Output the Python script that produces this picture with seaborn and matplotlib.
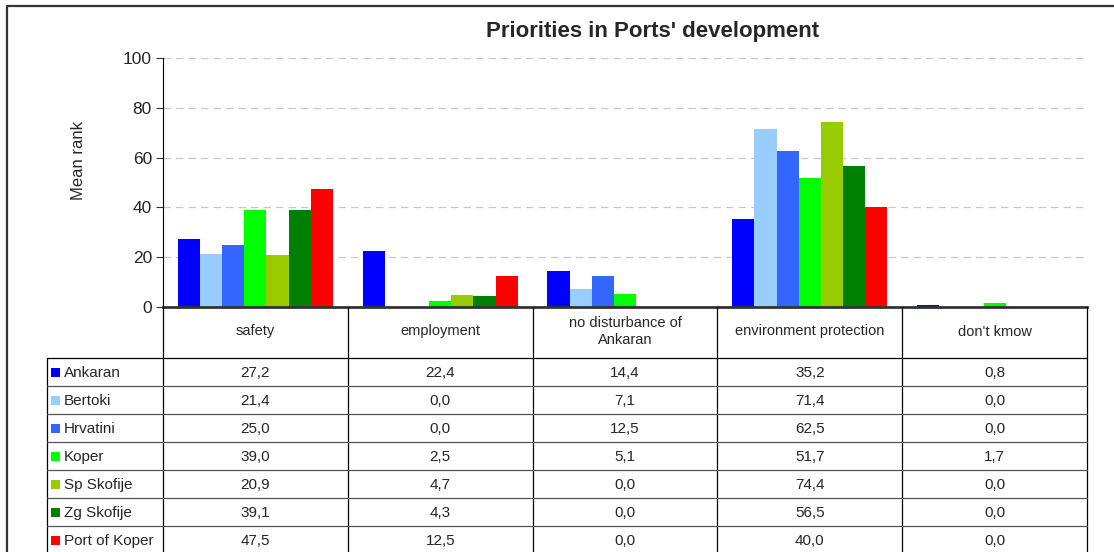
import seaborn as sns
import matplotlib.pyplot as plt
import pandas as pd
from matplotlib.patches import Rectangle

categories = ["safety", "employment", "no disturbance of\nAnkaran",
              "environment protection", "don't kmow"]
places = ["Ankaran", "Bertoki", "Hrvatini", "Koper", "Sp Skofije", "Zg Skofije", "Port of Koper"]
colors = ["#0000FF", "#99CCFF", "#3366FF", "#00FF00", "#99CC00", "#008000", "#FF0000"]

ankaran = [27.2, 22.4, 14.4, 35.2, 0.8]
bertoki = [21.4, 0.0, 7.1, 71.4, 0.0]
hrvatini = [25.0, 0.0, 12.5, 62.5, 0.0]
koper = [39.0, 2.5, 5.1, 51.7, 1.7]
sp_skofije = [20.9, 4.7, 0.0, 74.4, 0.0]
zg_skofije = [39.1, 4.3, 0.0, 56.5, 0.0]
port_of_koper = [47.5, 12.5, 0.0, 40.0, 0.0]

series = [ankaran, bertoki, hrvatini, koper, sp_skofije, zg_skofije, port_of_koper]


def main():
    sns.set_theme(style="white")
    plt.rcParams['font.family'] = ['Liberation Sans', 'DejaVu Sans']

    df = pd.DataFrame(
        [(cat, place, val)
         for place, vals in zip(places, series)
         for cat, val in zip(categories, vals)],
        columns=["category", "place", "value"],
    )

    W, H = 1114, 552
    fig = plt.figure(figsize=(W / 100, H / 100), dpi=100)

    # pixel coords of the plot area
    x0, x1, ytop, ybot = 163, 1087, 58, 307
    ax = fig.add_axes([x0 / W, 1 - ybot / H, (x1 - x0) / W, (ybot - ytop) / H])

    sns.barplot(data=df, x="category", y="value", hue="place", hue_order=places,
                order=categories, palette=colors, saturation=1, width=0.84, gap=0,
                errorbar=None, linewidth=0, legend=False, ax=ax)

    ax.set_xlim(-0.5, len(categories) - 0.5)
    ax.set_ylim(0, 100)
    ax.set_yticks(range(0, 101, 20))
    ax.set_xticks([])
    ax.set_xlabel("")
    ax.set_ylabel("Mean rank", fontsize=12)
    ax.yaxis.set_label_coords((86 - x0) / (x1 - x0), (ybot - 160) / (ybot - ytop))
    ax.tick_params(axis="y", length=5, width=0.8, color="#333333", labelsize=12.5, pad=3, left=True)
    ax.yaxis.grid(True, linestyle=(0, (6, 4)), color="#c8c8c8", linewidth=0.9)
    ax.set_axisbelow(True)
    for side in ["top", "right"]:
        ax.spines[side].set_visible(False)
    ax.spines["left"].set_color("black")
    ax.spines["left"].set_linewidth(0.8)
    ax.spines["bottom"].set_color("#333333")
    ax.spines["bottom"].set_linewidth(2)

    fig.text(653 / W, 1 - 31 / H, "Priorities in Ports' development",
             ha="center", va="center", fontsize=16, fontweight="bold")

    # data table below the plot, drawn in pixel coordinates
    tax = fig.add_axes([0, 0, 1, 1], facecolor="none")
    tax.set_xlim(0, W)
    tax.set_ylim(H, 0)
    tax.axis("off")

    col_w = (x1 - x0) / len(categories)
    col_edges = [x0 + i * col_w for i in range(len(categories) + 1)]
    leg_x = 47
    row_top = 358
    row_h = 28
    bottom = H + 5

    # frame around the whole chart
    tax.plot([7, 7, W + 5], [H + 5, 6, 6], color="#333333", lw=1.6)

    # vertical lines
    for xe in col_edges:
        tax.plot([xe, xe], [ybot, bottom], color="black", lw=0.9)
    tax.plot([leg_x, leg_x], [row_top, bottom], color="black", lw=0.9)
    # horizontal lines
    tax.plot([leg_x, x1], [row_top, row_top], color="black", lw=0.9)
    for r in range(1, len(places)):
        y = row_top + r * row_h
        tax.plot([leg_x, x1], [y, y], color="#555555", lw=0.9)

    # header
    for i, cat in enumerate(categories):
        cx = (col_edges[i] + col_edges[i + 1]) / 2
        tax.text(cx, (ybot + row_top) / 2 - 1, cat, ha="center", va="center",
                 fontsize=10.5, linespacing=1.2)

    # rows
    for r, (place, vals, color) in enumerate(zip(places, series, colors)):
        cy = row_top + r * row_h + row_h / 2 + 1
        tax.add_patch(Rectangle((51, cy - 5), 9, 9, facecolor=color, edgecolor="none"))
        tax.text(64, cy, place, ha="left", va="center", fontsize=11)
        for i, v in enumerate(vals):
            cx = (col_edges[i] + col_edges[i + 1]) / 2
            tax.text(cx, cy, f"{v:.1f}".replace(".", ","), ha="center", va="center", fontsize=11)

    fig.savefig("out.png", dpi=100, facecolor="white")


if __name__ == '__main__':
    main()
